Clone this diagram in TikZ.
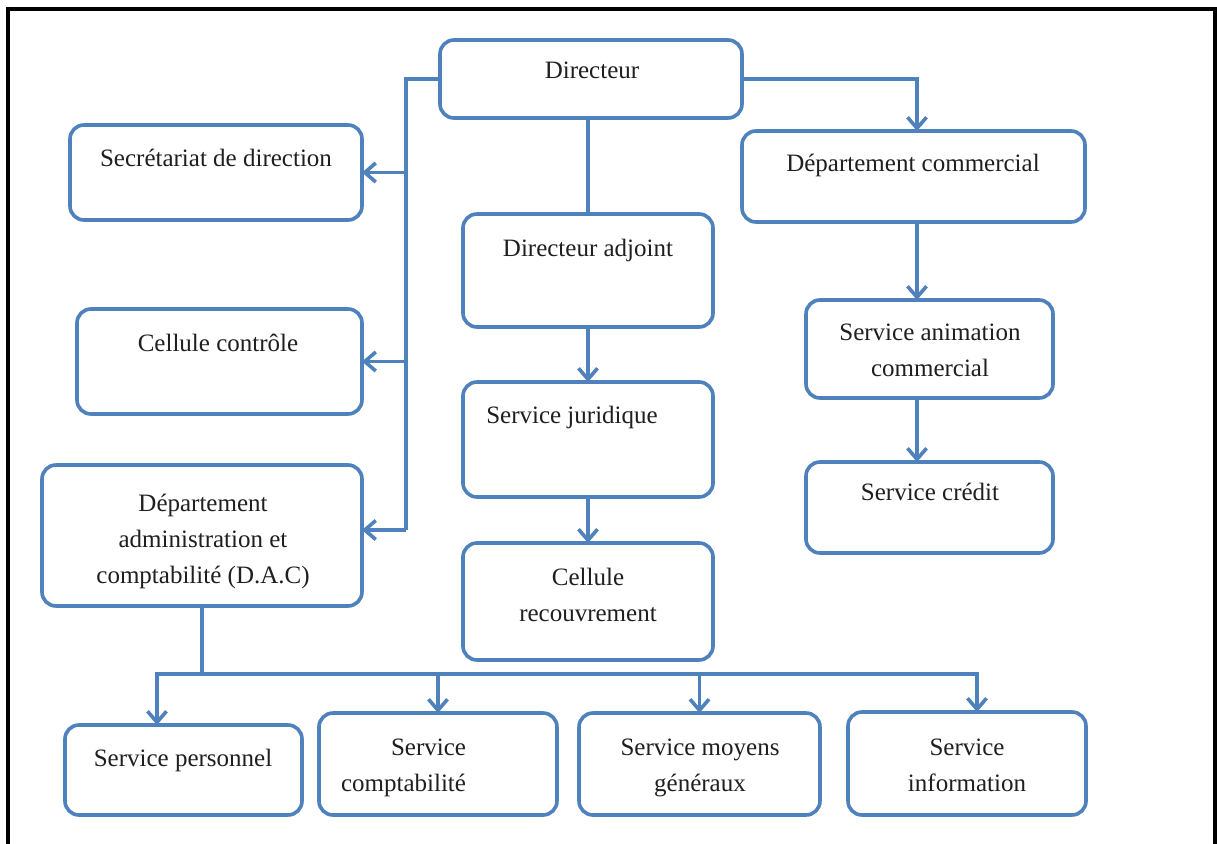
\documentclass[tikz,border=0pt]{standalone}
\usepackage{fontspec}
\setmainfont{Liberation Serif}
\usetikzlibrary{arrows.meta,calc}
\definecolor{obl}{HTML}{4F81BD}
\newcommand\Sx{\rule[-7pt]{0pt}{25pt}}
\tikzset{
  box/.style={draw=obl, line width=3.6pt, rounded corners=14pt, fill=white, inner sep=0pt, outer sep=0pt},
  txt/.style={inner sep=0pt, outer sep=0pt, align=center, text=black!88, font=\fontsize{25}{36}\selectfont, yshift=-3pt},
  conn/.style={draw=obl, line width=3.6pt},
  arr/.style={conn, -{Straight Barb[length=11pt,width=19pt]}},
}
\begin{document}
\begin{tikzpicture}[x=1pt,y=-1pt]
\useasboundingbox (0,0) rectangle (1217,843);
\fill[white] (0,0) rectangle (1217,843);
% frame
\draw[line width=4pt, black] (8,850) -- (8,9) -- (1215,9) -- (1215,850);

% boxes
\node[box, minimum width=302pt, minimum height=78pt]  (dir) at (591,79) {};
\node[box, minimum width=292pt, minimum height=95pt]  (sec) at (216,172.5) {};
\node[box, minimum width=285pt, minimum height=105pt] (cel) at (219.5,361.5) {};
\node[box, minimum width=320pt, minimum height=141pt] (dac) at (202,535.5) {};
\node[box, minimum width=250pt, minimum height=113pt] (adj) at (588,270.5) {};
\node[box, minimum width=250pt, minimum height=115pt] (jur) at (588,439.5) {};
\node[box, minimum width=250pt, minimum height=117pt] (rec) at (588,601.5) {};
\node[box, minimum width=343pt, minimum height=91pt]  (com) at (913.5,176.5) {};
\node[box, minimum width=247pt, minimum height=98pt]  (ani) at (929.5,349) {};
\node[box, minimum width=247pt, minimum height=91pt]  (cre) at (929.5,507.5) {};
\node[box, minimum width=237pt, minimum height=90pt]  (per) at (183.5,770) {};
\node[box, minimum width=238pt, minimum height=102pt] (cpt) at (438,764) {};
\node[box, minimum width=241pt, minimum height=102pt] (moy) at (699.5,764) {};
\node[box, minimum width=238pt, minimum height=103pt] (inf) at (967,763.5) {};

% texts
\node[txt] (tdir) at (592,70) {\Sx Directeur};
\node[txt] (tsec) at (216,158) {\Sx Secrétariat de direction};
\node[txt] (tcel) at (218,343) {\Sx Cellule contrôle};
\node[txt] (tdac) at (203,538.5) {\Sx Département\\\Sx administration et\\\Sx comptabilité (D.A.C)};
\node[txt] (tadj) at (588,248) {\Sx Directeur adjoint};
\node[txt] (tjur) at (572,415) {\Sx Service juridique};
\node[txt] (trec) at (588,594.5) {\Sx Cellule\\\Sx recouvrement};
\node[txt] (tcom) at (913,163) {\Sx Département commercial};
\node[txt] (tani) at (930,350) {\Sx Service animation\\\Sx commercial};
\node[txt] (tcre) at (930,492) {\Sx Service crédit};
\node[txt] (tper) at (183,758) {\Sx Service personnel};
\node[txt, align=right, anchor=east] (tcpt) at (466,765) {\Sx Service\\\Sx comptabilité};
\node[txt] (tmoy) at (700,765) {\Sx Service moyens\\\Sx généraux};
\node[txt] (tinf) at (967,765) {\Sx Service\\\Sx information};

% connectors
\coordinate (bl) at (406,79);
\coordinate (blb) at (406,530);
\draw[conn] (dir.west) -- (bl) -- (blb);
\draw[arr] (blb) -- (blb -| dac.east);
\draw[arr] (bl |- sec.east) -- (sec.east);
\draw[arr] (bl |- cel.east) -- (cel.east);

\draw[conn] (adj.north |- dir.south) -- (adj.north);
\draw[arr] (adj.south) -- (jur.north);
\draw[arr] (jur.south) -- (rec.north);

\coordinate (cx) at (917,0);
\draw[arr] (dir.east) -| (cx |- com.north);
\draw[arr] (cx |- com.south) -- (cx |- ani.north);
\draw[arr] (cx |- ani.south) -- (cx |- cre.north);

\coordinate (bus) at (202,674);
\draw[conn] (dac.south) -- (bus);
\draw[conn] (157,674) -- (977,674);
\draw[arr] (bus) -| ([xshift=-26.5pt]per.north);
\draw[arr] (bus) -| (cpt.north);
\draw[arr] (bus) -| (moy.north);
\draw[arr] (bus) -| ([xshift=10pt]inf.north);
\end{tikzpicture}
\end{document}
